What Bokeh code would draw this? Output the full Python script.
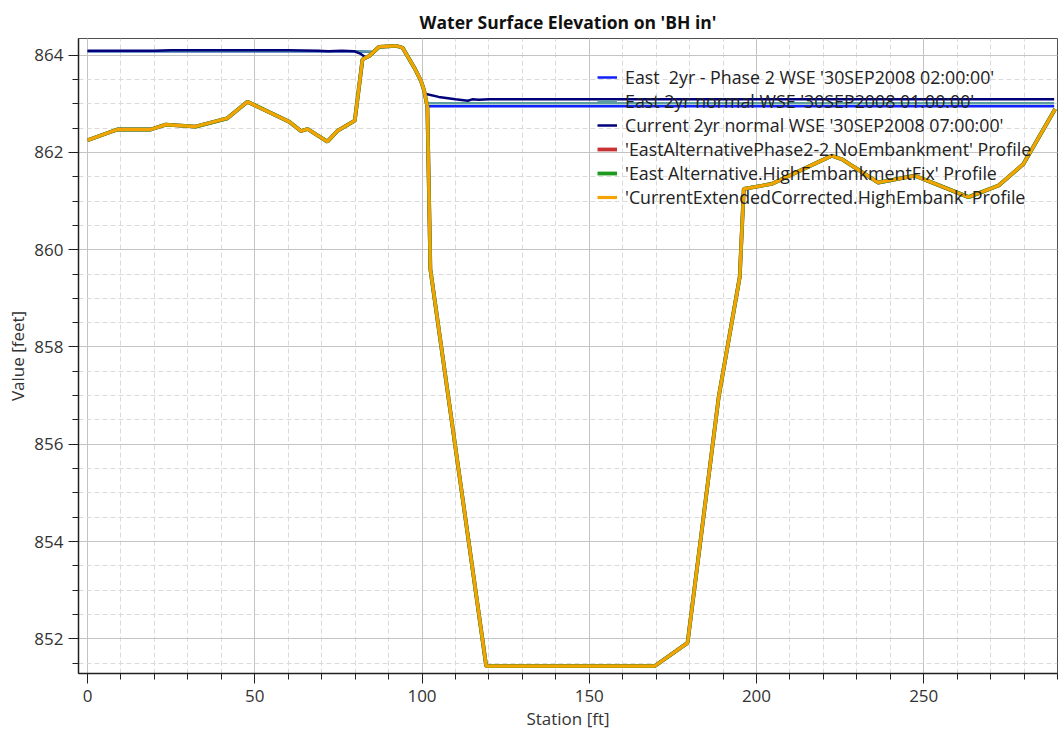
import numpy as np
from bokeh.plotting import figure
from bokeh.models import Range1d, SingleIntervalTicker, Legend, LegendItem
from bokeh.embed import file_html
from bokeh.resources import INLINE

nan = np.nan

# Ground profile (same for the three terrain profiles, which overlap)
profile_station = [0, 8.9, 18.9, 23.4, 32.3, 41.8, 47.8, 60.3, 63.8, 65.8, 71.7, 74.7, 79.9,
                   82.2, 84.2, 87.2, 92.2, 94.2, 97.7, 99.7, 100.6, 101.6, 102.5,
                   119.2, 169.5, 179.4, 188.7, 195.0, 196.2, 204.5, 222.5, 225.5,
                   236.4, 247.4, 263.4, 272.4, 279.8, 289.3]
profile_elev = [862.25, 862.47, 862.47, 862.57, 862.53, 862.70, 863.04, 862.63, 862.44, 862.48, 862.22, 862.44, 862.65,
                863.91, 863.98, 864.17, 864.19, 864.15, 863.74, 863.47, 863.28, 862.94, 859.60,
                851.44, 851.44, 851.92, 856.97, 859.44, 861.25, 861.35, 861.93, 861.86,
                861.38, 861.52, 861.08, 861.32, 861.76, 862.89]

# WSE series (NaN separates the wet segments)
east_ph2_station = [0, 40, 80, 85.5, nan, 101.7, 150, 200, 250, 289]
east_ph2_wse = [864.08, 864.08, 864.08, 864.06, nan, 862.95, 862.95, 862.95, 862.95, 862.95]

east_normal_station = [0, 40, 80, 85.5, nan, 101.6, 150, 200, 250, 289]
east_normal_wse = [864.08, 864.08, 864.08, 864.07, nan, 863.01, 863.01, 863.01, 863.01, 863.01]

current_station = [0, 20, 25, 40, 60, 69, 72, 76, 79.7, 81.5, 83.2, nan,
                   101.2, 105, 110, 113.7, 115, 117, 120, 150, 200, 250, 289]
current_wse = [864.09, 864.09, 864.10, 864.10, 864.10, 864.09, 864.08, 864.09, 864.08, 864.03, 863.95, nan,
               863.20, 863.14, 863.09, 863.06, 863.09, 863.08, 863.09, 863.09, 863.09, 863.09, 863.09]

labels = ["East  2yr - Phase 2 WSE '30SEP2008 02:00:00'",
          "East 2yr normal WSE '30SEP2008 01:00:00'",
          "Current 2yr normal WSE '30SEP2008 07:00:00'",
          "'EastAlternativePhase2-2.NoEmbankment' Profile",
          "'East Alternative.HighEmbankmentFix' Profile",
          "'CurrentExtendedCorrected.HighEmbank' Profile"]
colors = ["#1020ff", "#5f9ea0", "#00007a", "#c83232", "#1e9a1e", "#f5a300"]

FONT = "Open Sans"

p = figure(width=1060, height=743, output_backend="svg", toolbar_location=None,
           x_range=Range1d(-2.7, 290.0), y_range=Range1d(851.29, 864.34),
           min_border_left=78, min_border_right=3, min_border_top=38, min_border_bottom=70,
           title="Water Surface Elevation on 'BH in'")

p.title.align = "center"
p.title.text_font = FONT
p.title.text_font_size = "17.5px"
p.title.text_font_style = "bold"
p.title.text_color = "#111111"
p.title.offset = 0

p.background_fill_color = "white"
p.border_fill_color = "white"
p.outline_line_color = "#505050"
p.outline_line_width = 1

xt = SingleIntervalTicker(interval=50, num_minor_ticks=5)
yt = SingleIntervalTicker(interval=2, num_minor_ticks=4)
p.xaxis.ticker = xt
p.yaxis.ticker = yt
p.xgrid.ticker = xt
p.ygrid.ticker = yt

for g in (p.xgrid, p.ygrid):
    g.grid_line_color = "#c4c4c4"
    g.grid_line_width = 1
    g.minor_grid_line_color = "#dadada"
    g.minor_grid_line_dash = "5 3"
    g.minor_grid_line_width = 1

for ax in (p.xaxis, p.yaxis):
    ax.axis_line_color = "#202020"
    ax.axis_line_width = 1.5
    ax.major_tick_line_color = "#202020"
    ax.minor_tick_line_color = "#202020"
    ax.major_tick_in = 0
    ax.minor_tick_in = 0
    ax.major_tick_out = 10
    ax.minor_tick_out = 6
    ax.major_label_text_font = FONT
    ax.major_label_text_font_size = "17px"
    ax.major_label_text_color = "#333333"
    ax.axis_label_text_font = FONT
    ax.axis_label_text_font_size = "17px"
    ax.axis_label_text_font_style = "normal"
    ax.axis_label_text_color = "#333333"

p.xaxis.axis_label = "Station [ft]"
p.yaxis.axis_label = "Value [feet]"
p.xaxis.major_label_standoff = 6
p.yaxis.major_label_standoff = 5
p.xaxis.axis_label_standoff = 2
p.yaxis.axis_label_standoff = 2

r1 = p.line(np.array(east_ph2_station, dtype=float), np.array(east_ph2_wse, dtype=float),
            line_color=colors[0], line_width=2.5)
r2 = p.line(np.array(east_normal_station, dtype=float), np.array(east_normal_wse, dtype=float),
            line_color=colors[1], line_width=2.5)
r3 = p.line(np.array(current_station, dtype=float), np.array(current_wse, dtype=float),
            line_color=colors[2], line_width=2.5)
r4 = p.line(profile_station, profile_elev, line_color=colors[3], line_width=3.8)
r5 = p.line(profile_station, profile_elev, line_color=colors[4], line_width=3.8)
r6 = p.line(profile_station, profile_elev, line_color=colors[5], line_width=3.2)

items = [LegendItem(label=lab, renderers=[r]) for lab, r in zip(labels, [r1, r2, r3, r4, r5, r6])]
legend = Legend(items=items, location=(514, 459))
legend.background_fill_alpha = 0
legend.border_line_alpha = 0
legend.padding = 5
legend.margin = 0
legend.spacing = 0
legend.glyph_width = 20
legend.glyph_height = 24
legend.label_height = 24
legend.label_standoff = 8
legend.label_text_font = FONT
legend.label_text_font_size = "17.8px"
legend.label_text_color = "#222222"
p.add_layout(legend)

open("out.html", "w").write(file_html(p, INLINE))
